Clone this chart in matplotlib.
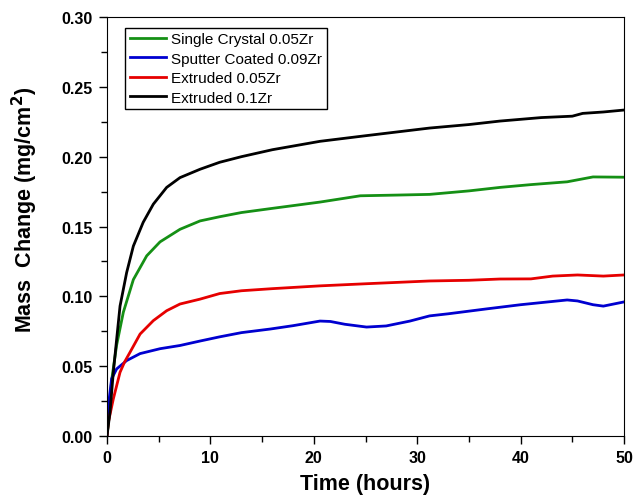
import numpy as np
import matplotlib
matplotlib.use("Agg")
import matplotlib.pyplot as plt
from matplotlib.ticker import MultipleLocator, FormatStrFormatter

plt.rcParams['font.family'] = ['Liberation Sans', 'DejaVu Sans']

# readings (time in hours, mass change in mg/cm2)
t_black = [0, 0.29, 0.61, 0.93, 1.26, 1.9, 2.55, 3.5, 4.48, 5.77, 7.06, 9.0, 10.9, 13, 16, 20.6, 25, 31.2, 35, 38, 42, 45, 46, 48, 50]
y_black = [0, 0.017, 0.0456, 0.069, 0.093, 0.117, 0.136, 0.153, 0.166, 0.178, 0.185, 0.191, 0.196, 0.200, 0.205, 0.211, 0.215, 0.2205, 0.223, 0.2255, 0.228, 0.229, 0.231, 0.232, 0.2334]

t_green = [0, 0.2, 0.45, 0.93, 1.58, 2.55, 3.84, 5.13, 7.06, 9.0, 10.9, 13, 16, 20.6, 24.5, 28, 31.2, 35, 38, 41, 44.5, 47, 50]
y_green = [0, 0.015, 0.04, 0.065, 0.0886, 0.112, 0.129, 0.139, 0.148, 0.154, 0.157, 0.160, 0.163, 0.1675, 0.172, 0.1725, 0.173, 0.1755, 0.178, 0.180, 0.182, 0.1855, 0.1853]

t_blue = [0, 0.13, 0.45, 0.93, 1.9, 3.2, 5.13, 7.06, 9.0, 10.9, 13, 15.8, 18, 20.6, 21.6, 23, 25.1, 27, 29.3, 31.2, 33, 36.7, 40, 44.5, 45.5, 47, 48, 50]
y_blue = [0, 0.0217, 0.041, 0.048, 0.054, 0.059, 0.0625, 0.0648, 0.068, 0.071, 0.074, 0.0766, 0.079, 0.0823, 0.082, 0.080, 0.078, 0.0788, 0.0823, 0.086, 0.0875, 0.091, 0.094, 0.0974, 0.0967, 0.094, 0.093, 0.096]

t_red = [0, 0.13, 0.61, 1.26, 1.7, 2.23, 3.2, 4.48, 5.77, 7.06, 9.0, 10.9, 13, 16, 20.6, 25, 31.2, 35, 38, 41, 43.1, 45.5, 48, 50]
y_red = [0, 0.0098, 0.0265, 0.0456, 0.053, 0.060, 0.073, 0.0826, 0.0897, 0.0945, 0.098, 0.102, 0.104, 0.1055, 0.1075, 0.109, 0.111, 0.1115, 0.1124, 0.1125, 0.1145, 0.1153, 0.1145, 0.1153]

labels = ['Single Crystal 0.05Zr', 'Sputter Coated 0.09Zr', 'Extruded 0.05Zr', 'Extruded 0.1Zr']

fig = plt.figure(figsize=(6.43, 5.02), dpi=100)
ax = fig.add_axes([0.1664, 0.1295, 0.8041, 0.8346])

ax.plot(t_green, y_green, color='#159015', lw=2, label=labels[0])
ax.plot(t_blue, y_blue, color='#0000d0', lw=2, label=labels[1])
ax.plot(t_red, y_red, color='#e60000', lw=2, label=labels[2])
ax.plot(t_black, y_black, color='black', lw=2, label=labels[3])

ax.set_xlim(0, 50)
ax.set_ylim(0, 0.30)
ax.xaxis.set_major_locator(MultipleLocator(10))
ax.xaxis.set_minor_locator(MultipleLocator(5))
ax.yaxis.set_major_locator(MultipleLocator(0.05))
ax.yaxis.set_minor_locator(MultipleLocator(0.025))
ax.yaxis.set_major_formatter(FormatStrFormatter('%.2f'))

ax.tick_params(which='major', length=6, width=1, direction='out')
ax.tick_params(which='minor', length=4, width=1, direction='out')
ax.tick_params(axis='y', pad=4.5)
ax.tick_params(axis='x', pad=4)
for lab in ax.get_xticklabels() + ax.get_yticklabels():
    lab.set_fontsize(11.5)
    lab.set_fontweight('bold')

ax.set_xlabel('Time (hours)', fontsize=15.5, fontweight='bold', labelpad=6)
ax.set_ylabel('Mass  Change (mg/cm$^\\mathbf{2}$)', fontsize=15.5, fontweight='bold')
ax.yaxis.set_label_coords(-0.13, 0.542)

leg = ax.legend(loc='upper left', bbox_to_anchor=(0.035, 0.974), fontsize=11,
                frameon=True, fancybox=False, edgecolor='black', framealpha=1,
                handlelength=2.4, handletextpad=0.3, borderpad=0.3, labelspacing=0.35,
                borderaxespad=0)
leg.get_frame().set_linewidth(1)

fig.savefig('out.png', dpi=100)
